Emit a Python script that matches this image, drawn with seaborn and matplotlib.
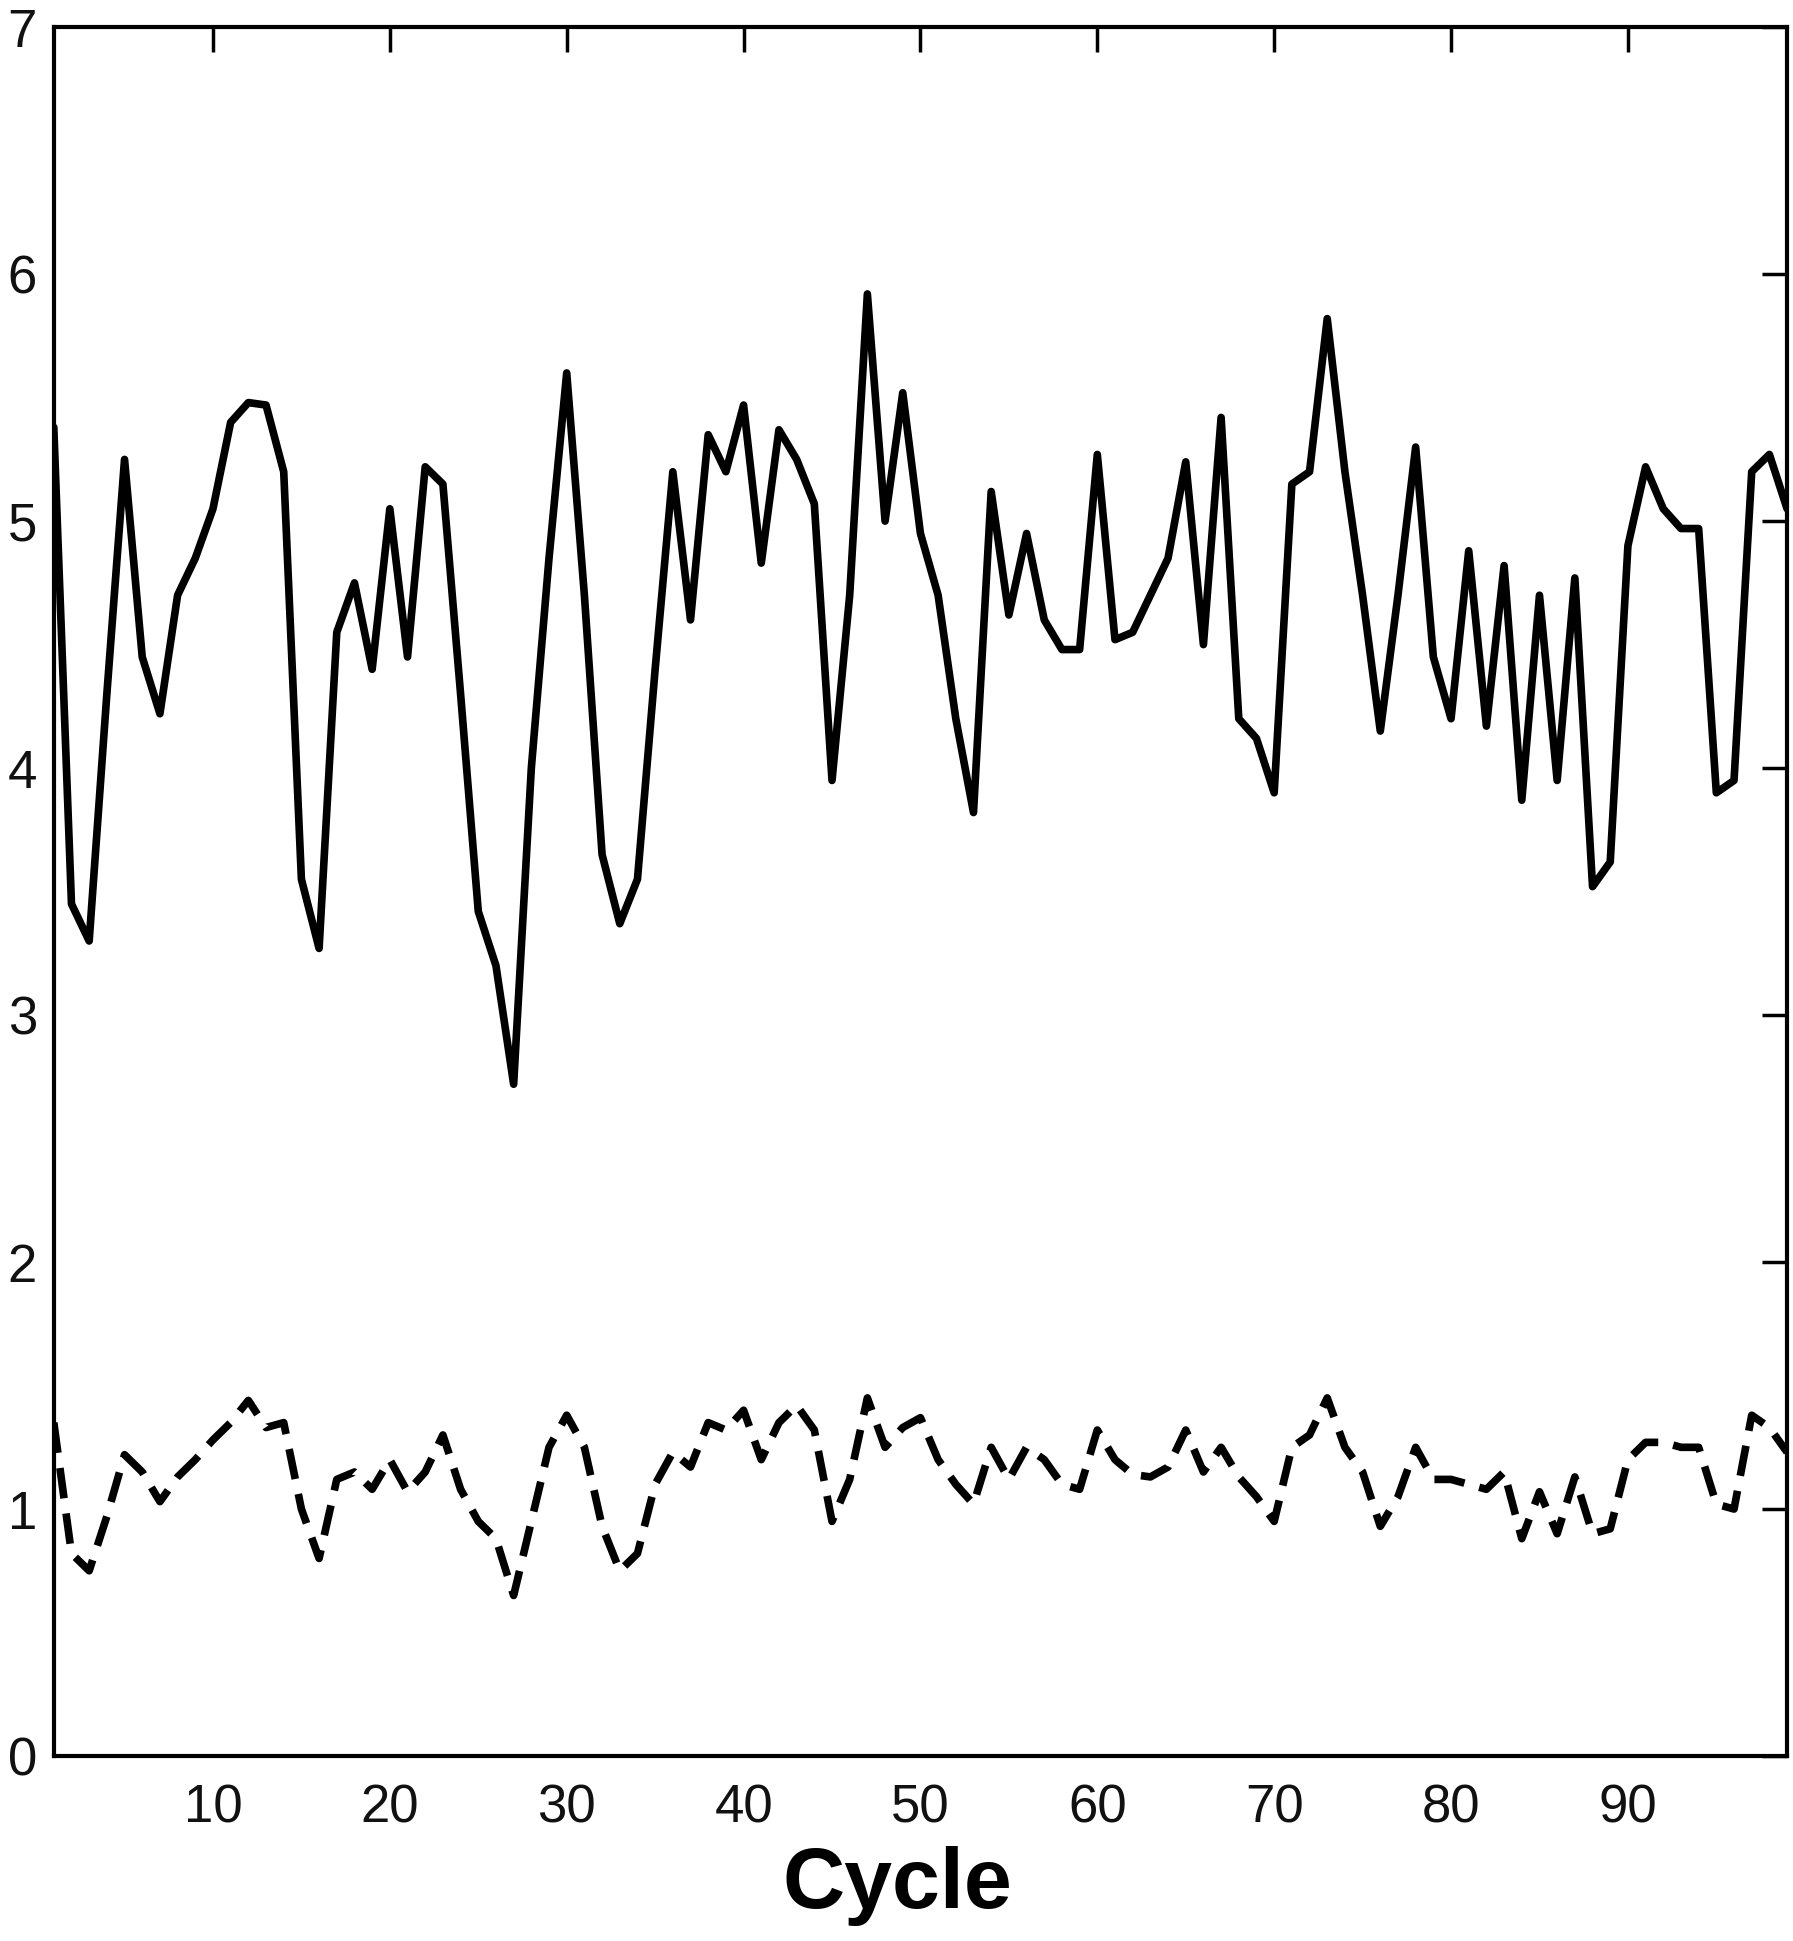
import matplotlib
matplotlib.use("Agg")
import matplotlib.pyplot as plt
import seaborn as sns
import pandas as pd
import numpy as np

cycles = list(range(1, 100))

solid_values = [
    5.38, 3.45, 3.30, 4.30, 5.25, 4.45, 4.22, 4.70, 4.85, 5.05,
    5.40, 5.48, 5.47, 5.20, 3.55, 3.27, 4.55, 4.75, 4.40, 5.05,
    4.45, 5.22, 5.15, 4.30, 3.42, 3.20, 2.72, 4.00, 4.85, 5.60,
    4.70, 3.65, 3.37, 3.55, 4.40, 5.20, 4.60, 5.35, 5.20, 5.47,
    4.83, 5.37, 5.25, 5.07, 3.95, 4.70, 5.92, 5.00, 5.52, 4.95,
    4.70, 4.20, 3.82, 5.12, 4.62, 4.95, 4.60, 4.48, 4.48, 5.27,
    4.52, 4.55, 4.70, 4.85, 5.24, 4.50, 5.42, 4.20, 4.12, 3.90,
    5.15, 5.20, 5.82, 5.20, 4.70, 4.15, 4.70, 5.30, 4.45, 4.20,
    4.88, 4.17, 4.82, 3.87, 4.70, 3.95, 4.77, 3.52, 3.62, 4.90,
    5.22, 5.05, 4.97, 4.97, 3.90, 3.95, 5.20, 5.27, 5.05,
]

dashed_values = [
    1.35, 0.82, 0.75, 0.97, 1.22, 1.15, 1.03, 1.13, 1.20, 1.28,
    1.35, 1.44, 1.33, 1.35, 1.00, 0.80, 1.12, 1.15, 1.08, 1.20,
    1.07, 1.15, 1.30, 1.08, 0.95, 0.88, 0.65, 0.95, 1.25, 1.38,
    1.25, 0.93, 0.75, 0.82, 1.10, 1.23, 1.17, 1.35, 1.32, 1.40,
    1.20, 1.35, 1.42, 1.32, 0.95, 1.12, 1.45, 1.25, 1.33, 1.37,
    1.20, 1.10, 1.02, 1.25, 1.12, 1.25, 1.20, 1.10, 1.08, 1.32,
    1.20, 1.14, 1.13, 1.17, 1.32, 1.15, 1.25, 1.13, 1.05, 0.95,
    1.25, 1.30, 1.45, 1.25, 1.15, 0.93, 1.05, 1.25, 1.12, 1.12,
    1.10, 1.08, 1.15, 0.88, 1.07, 0.90, 1.13, 0.90, 0.92, 1.20,
    1.27, 1.27, 1.25, 1.25, 1.02, 1.00, 1.38, 1.33, 1.23,
]

x_ticks = [10, 20, 30, 40, 50, 60, 70, 80, 90]
y_ticks = [0, 1, 2, 3, 4, 5, 6, 7]
x_label = "Cycle"

sns.set_theme(style="white")
plt.rcParams["font.family"] = ["Liberation Sans Narrow", "Liberation Sans", "DejaVu Sans"]

df = pd.DataFrame({
    "Cycle": cycles * 2,
    "value": solid_values + dashed_values,
    "series": ["solid"] * len(cycles) + ["dashed"] * len(cycles),
})

fig = plt.figure(figsize=(17.93, 19.41), dpi=100)
ax = fig.add_axes([0.030, 0.0953, 0.9667, 0.8907])

sns.lineplot(data=df[df.series == "solid"], x="Cycle", y="value", ax=ax,
             color="black", linewidth=5.5, legend=False)
sns.lineplot(data=df[df.series == "dashed"], x="Cycle", y="value", ax=ax,
             color="black", linewidth=5.5, legend=False)
ax.lines[1].set_dashes([4.0, 2.0])

ax.set_xlim(1, 99)
ax.set_ylim(0, 7)
ax.set_xticks(x_ticks)
ax.set_yticks(y_ticks)
ax.tick_params(axis="both", direction="in", length=18, width=2.5,
               top=True, right=True, labelsize=38, colors="black")
ax.tick_params(axis="x", pad=20)
ax.tick_params(axis="y", pad=12)
for lab in ax.get_xticklabels() + ax.get_yticklabels():
    lab.set_color("#111111")
for s in ax.spines.values():
    s.set_linewidth(3)
    s.set_color("black")
ax.set_xlabel(x_label, fontsize=62, fontweight="bold",
              family=["Liberation Sans", "DejaVu Sans"], color="black")
ax.xaxis.set_label_coords(0.487, -0.052)
ax.set_ylabel("")

fig.savefig("out.png", dpi=100, facecolor="white")
